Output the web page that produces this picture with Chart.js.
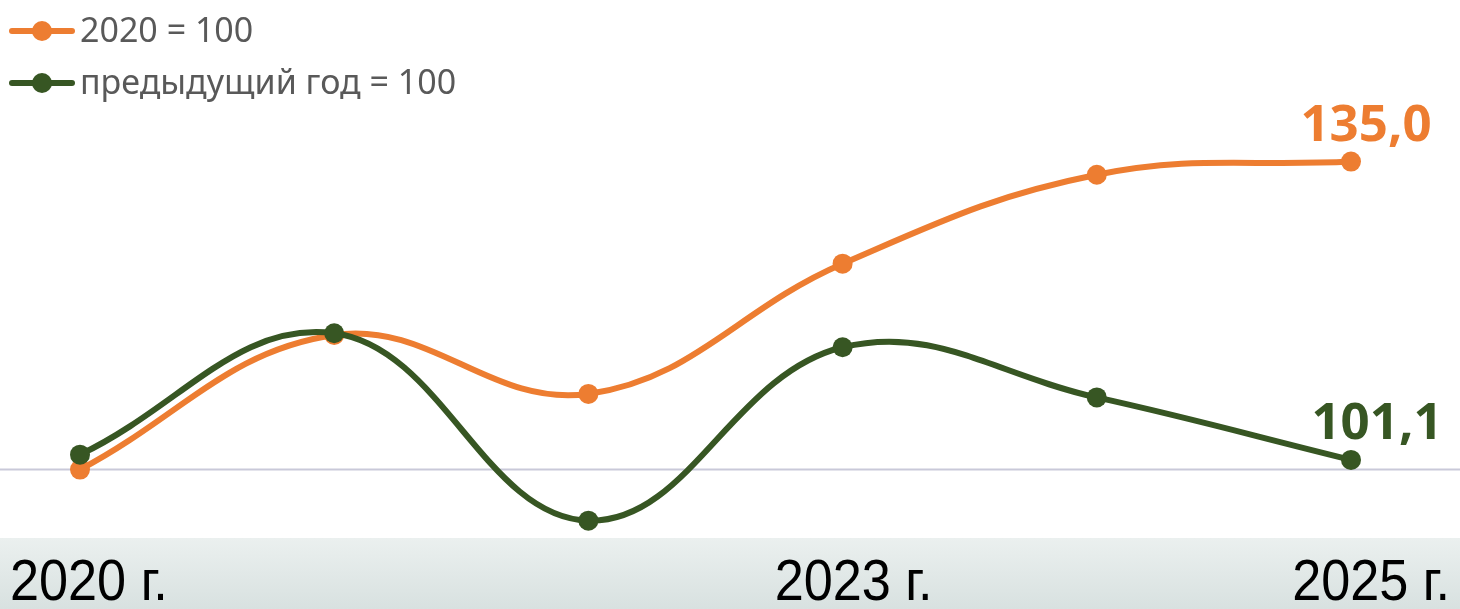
<!DOCTYPE html>
<html>
<head>
<meta charset="utf-8">
<script src="https://cdn.jsdelivr.net/npm/chart.js@4"></script>
<style>
  html, body { margin: 0; padding: 0; background: #fff; }
  #wrap { position: relative; width: 1460px; height: 609px; }
</style>
</head>
<body>
<div id="wrap"><canvas id="c" width="1460" height="609"></canvas></div>
<script>
const years = ['2020', '2021', '2022', '2023', '2024', '2025'];
const xLabels = ['2020 г.', '', '', '2023 г.', '', '2025 г.'];
const base2020 = [100.0, 115.3, 108.6, 123.4, 133.5, 135.0];
const prevYear = [101.7, 115.5, 94.2, 113.9, 108.2, 101.1];
const seriesNames = ['2020 = 100', 'предыдущий год = 100'];
const lastLabels = ['135,0', '101,1'];

const ORANGE = '#ED7D31';
const GREEN = '#375623';

// bottom band, baseline at 100, legend, last-point labels
const decor = {
  id: 'decor',
  beforeDatasetsDraw(chart) {
    const { ctx, width, height, scales } = chart;
    const y100 = scales.y.getPixelForValue(100);
    ctx.save();
    ctx.strokeStyle = '#c9c9d9';
    ctx.lineWidth = 2;
    ctx.beginPath();
    ctx.moveTo(0, y100);
    ctx.lineTo(width, y100);
    ctx.stroke();

    const g = ctx.createLinearGradient(0, 538, 0, height);
    g.addColorStop(0, '#ebf0ef');
    g.addColorStop(1, '#d8e1e0');
    ctx.fillStyle = g;
    ctx.fillRect(0, 538, width, height - 538);

    // narrow axis labels: squeeze Liberation Sans horizontally
    ctx.fillStyle = '#000';
    ctx.font = '58px "Liberation Sans", Arial, sans-serif';
    ctx.textBaseline = 'alphabetic';
    const sx = 0.9;
    const n = xLabels.length;
    xLabels.forEach((lab, i) => {
      if (!lab) return;
      let x = scales.x.getPixelForValue(i) + 11, align = 'center';
      if (i === 0) { x = 10; align = 'left'; }
      else if (i === n - 1) { x = width - 10; align = 'right'; }
      ctx.save();
      ctx.translate(x, 600);
      ctx.scale(sx, 1);
      ctx.textAlign = align;
      ctx.fillText(lab, 0, 0);
      ctx.restore();
    });
    ctx.restore();
  },
  afterDatasetsDraw(chart) {
    const { ctx } = chart;
    ctx.save();
    // legend
    const colors = [ORANGE, GREEN];
    seriesNames.forEach((name, i) => {
      const cy = 31 + i * 52;
      ctx.strokeStyle = colors[i];
      ctx.lineWidth = 6;
      ctx.lineCap = 'round';
      ctx.beginPath();
      ctx.moveTo(12, cy);
      ctx.lineTo(72, cy);
      ctx.stroke();
      ctx.fillStyle = colors[i];
      ctx.beginPath();
      ctx.arc(42, cy, 10, 0, Math.PI * 2);
      ctx.fill();
      ctx.fillStyle = '#595959';
      ctx.font = '34px "Noto Sans", "Open Sans", sans-serif';
      ctx.textAlign = 'left';
      ctx.textBaseline = 'middle';
      ctx.fillText(name, 80, cy + 1);
    });
    // labels on last points
    ctx.font = 'bold 51px "Noto Sans", "Open Sans", sans-serif';
    ctx.textAlign = 'center';
    ctx.textBaseline = 'alphabetic';
    chart.data.datasets.forEach((ds, di) => {
      const meta = chart.getDatasetMeta(di);
      const pt = meta.data[meta.data.length - 1];
      ctx.fillStyle = ds.borderColor;
      ctx.fillText(lastLabels[di], pt.x + (di === 0 ? 15 : 26), pt.y - 21);
    });
    ctx.restore();
  }
};

new Chart(document.getElementById('c'), {
  type: 'line',
  data: {
    labels: years,
    datasets: [
      {
        label: seriesNames[0],
        data: base2020,
        borderColor: ORANGE,
        backgroundColor: ORANGE,
        borderWidth: 6,
        pointRadius: 10,
        pointHoverRadius: 10,
        pointBorderWidth: 0,
        tension: 0.4,
        order: 2,
        clip: false
      },
      {
        label: seriesNames[1],
        data: prevYear,
        borderColor: GREEN,
        backgroundColor: GREEN,
        borderWidth: 6,
        pointRadius: 10,
        pointHoverRadius: 10,
        pointBorderWidth: 0,
        tension: 0.4,
        order: 1,
        clip: false
      }
    ]
  },
  options: {
    responsive: false,
    animation: false,
    layout: { padding: { left: 80, right: 109, top: 100, bottom: 69 } },
    plugins: {
      legend: { display: false },
      tooltip: { enabled: false }
    },
    scales: {
      x: { display: false, offset: false },
      y: { display: false, min: 92, max: 142 }
    }
  },
  plugins: [decor]
});
</script>
</body>
</html>
